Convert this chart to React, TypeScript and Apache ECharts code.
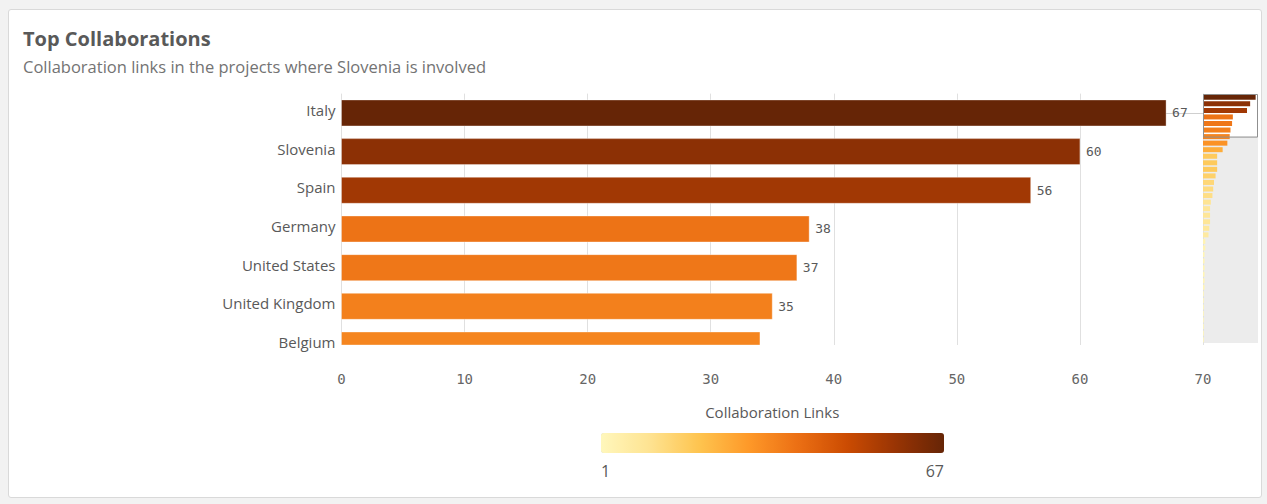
import React, { useEffect, useRef } from "react";
import * as echarts from "echarts";

const countries = ["Italy", "Slovenia", "Spain", "Germany", "United States", "United Kingdom", "Belgium"];
const links = [67, 60, 56, 38, 37, 35, 34];
// remaining (unnamed) rows shown only in the overview strip on the right
const otherLinks = [31, 25, 18, 18, 18, 16, 14, 13, 12, 10, 9, 9, 9, 8, 7, 3, 3, 2, 2, 2, 2, 2, 2, 1, 1, 1, 1, 1, 1, 1, 1];
const xTickMin = 0;
const xTickMax = 70;
const xTickStep = 10;
const palette = ["#fff7bc", "#fee391", "#fec44f", "#fe9929", "#ec7014", "#cc4c02", "#993404", "#662506"];

const TITLE = "Top Collaborations";
const SUBTITLE = "Collaboration links in the projects where Slovenia is involved";
const AXIS_TITLE = "Collaboration Links";

const SANS = "'Open Sans', Roboto, sans-serif";
const MONO = "'DejaVu Sans Mono', monospace";

export default function App() {
  const ref = useRef<HTMLDivElement>(null);
  useEffect(() => {
    if (!ref.current) return;
    const chart = echarts.init(ref.current, null, { renderer: "svg" });
    const allValues = [...links, ...otherLinks];
    const minVal = Math.min(...allValues);
    const maxVal = Math.max(...allValues);

    const plotLeft = 341.5;
    const plotTop = 93.6;
    const plotBottom = 345;
    const plotRight = 1203;
    const visibleRows = 6.5;
    const rowPitch = (plotBottom - plotTop) / visibleRows;
    const barThickness = 26;
    const labelLift = 3;

    const mmLeft = 1203;
    const mmTop = 94;
    const mmWidth = 55;
    const mmHeight = 249;
    const windowH = (mmHeight * visibleRows) / allValues.length;

    const legLeft = 601;
    const legTop = 433;
    const legLen = 343;
    const legThick = 20;

    const option: any = {
      animation: false,
      title: [
        {
          text: TITLE,
          left: 23,
          top: 28,
          padding: 0,
          textStyle: { fontFamily: SANS, fontSize: 20, fontWeight: "bold", color: "#595959" },
        },
        {
          text: SUBTITLE,
          left: 23,
          top: 58,
          padding: 0,
          textStyle: { fontFamily: SANS, fontSize: 16.5, fontWeight: "normal", color: "#737373" },
        },
      ],
      grid: [
        {
          left: plotLeft,
          top: plotTop,
          width: plotRight - plotLeft,
          height: plotBottom - plotTop,
          outerBoundsMode: "none",
        },
        {
          left: plotLeft,
          top: plotTop - labelLift,
          width: plotRight - plotLeft,
          height: rowPitch * countries.length,
          outerBoundsMode: "none",
        },
        {
          left: mmLeft,
          top: mmTop,
          width: mmWidth,
          height: mmHeight,
          show: true,
          backgroundColor: "#ececec",
          borderWidth: 0,
          outerBoundsMode: "none",
        },
      ],
      xAxis: [
        {
          type: "value",
          gridIndex: 0,
          min: xTickMin,
          max: xTickMax,
          interval: xTickStep,
          axisLine: { show: true, lineStyle: { color: "#cfcfcf", width: 1 } },
          axisTick: { show: true, length: 11, lineStyle: { color: "#dcdcdc" } },
          splitLine: { show: true, lineStyle: { color: "#e0e0e0", width: 1 } },
          axisLabel: { fontFamily: MONO, fontSize: 14, color: "#666666", margin: 27 },
          name: AXIS_TITLE,
          nameLocation: "middle",
          nameGap: 59,
          nameTextStyle: { fontFamily: SANS, fontSize: 15, color: "#595959" },
        },
        { type: "value", gridIndex: 1, min: xTickMin, max: xTickMax, show: false },
        { type: "value", gridIndex: 2, min: xTickMin, max: xTickMax, show: false },
      ],
      yAxis: [
        {
          type: "value",
          gridIndex: 0,
          inverse: true,
          min: -0.5,
          max: visibleRows - 0.5,
          show: false,
        },
        {
          type: "category",
          gridIndex: 1,
          data: countries,
          inverse: true,
          axisLabel: {
            show: true,
            fontFamily: SANS,
            fontSize: 15,
            color: "#595959",
            margin: 6,
          },
          axisLine: { show: false },
          axisTick: { show: false },
          splitLine: { show: false },
        },
        {
          type: "category",
          gridIndex: 2,
          data: allValues.map((_, i) => String(i + 1)),
          inverse: true,
          show: false,
        },
      ],
      visualMap: {
        type: "continuous",
        min: minVal,
        max: maxVal,
        dimension: 0,
        seriesIndex: [0, 1],
        inRange: { color: palette },
        orient: "horizontal",
        left: legLeft,
        top: legTop,
        itemWidth: legThick,
        itemHeight: legLen,
        calculable: false,
        padding: 0,
        text: null,
        showLabel: false,
      },
      graphic: [
        {
          type: "rect",
          z: 1,
          silent: true,
          shape: { x: mmLeft, y: mmTop, width: mmWidth, height: windowH },
          style: { fill: "#ffffff" },
        },
        {
          type: "rect",
          z: 10,
          silent: true,
          shape: { x: mmLeft + 0.5, y: mmTop + 0.5, width: mmWidth - 1, height: windowH },
          style: { fill: "none", stroke: "#8f8f8f", lineWidth: 1 },
        },
        {
          type: "text",
          x: legLeft,
          y: legTop + legThick + 18,
          style: {
            text: String(minVal),
            font: `16px ${SANS}`,
            fill: "#595959",
            align: "left",
            verticalAlign: "middle",
          },
        },
        {
          type: "text",
          x: legLeft + legLen,
          y: legTop + legThick + 18,
          style: {
            text: String(maxVal),
            font: `16px ${SANS}`,
            fill: "#595959",
            align: "right",
            verticalAlign: "middle",
          },
        },
      ],
      series: [
        {
          type: "custom",
          xAxisIndex: 0,
          yAxisIndex: 0,
          data: links.map((v, i) => [v, i]),
          encode: { x: 0, y: 1 },
          clip: false,
          renderItem: (params: any, api: any) => {
            const val = api.value(0);
            const idx = api.value(1);
            const start = api.coord([0, idx]);
            const end = api.coord([val, idx]);
            const cs = params.coordSys;
            const rect = echarts.graphic.clipRectByRect(
              { x: start[0], y: start[1] - barThickness / 2, width: end[0] - start[0], height: barThickness },
              { x: cs.x, y: cs.y, width: cs.width, height: cs.height }
            );
            const children: any[] = [];
            if (rect) {
              children.push({
                type: "rect",
                shape: rect,
                style: { fill: api.visual("color"), stroke: "rgba(255,255,255,0.35)", lineWidth: 1 },
              });
            }
            if (end[1] + barThickness / 2 <= cs.y + cs.height) {
              children.push({
                type: "text",
                x: end[0] + 6,
                y: end[1],
                style: {
                  text: String(val),
                  font: `13px ${MONO}`,
                  fill: "#595959",
                  align: "left",
                  verticalAlign: "middle",
                },
              });
            }
            return { type: "group", children };
          },
        },
        {
          type: "bar",
          xAxisIndex: 2,
          yAxisIndex: 2,
          data: allValues,
          barWidth: 5,
          silent: true,
        },
      ],
    };
    chart.setOption(option);
    return () => chart.dispose();
  }, []);

  return (
    <div style={{ position: "fixed", left: 0, top: 0, width: 1267, height: 504, background: "#f2f2f2" }}>
      <div
        style={{
          position: "absolute",
          left: 8,
          top: 9,
          width: 1254,
          height: 489,
          background: "#ffffff",
          border: "1px solid #d9d9d9",
          borderRadius: 3,
          boxSizing: "border-box",
        }}
      />
      <div ref={ref} style={{ position: "absolute", left: 0, top: 0, width: 1267, height: 504 }} />
    </div>
  );
}
